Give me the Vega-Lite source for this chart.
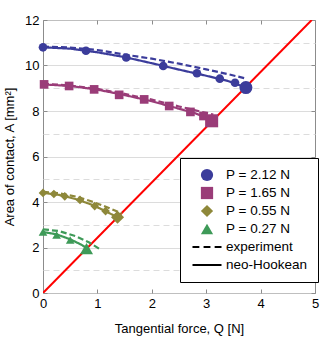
{
  "$schema": "https://vega.github.io/schema/vega-lite/v6.json",
  "width": 272,
  "height": 273,
  "autosize": "none",
  "padding": {"left": 43, "top": 20, "right": 5, "bottom": 46},
  "config": {
    "font": "Liberation Sans",
    "view": {"stroke": "#8c8c8c", "strokeWidth": 1},
    "axis": {
      "domain": false,
      "labelFontSize": 13,
      "titleFontSize": 13,
      "labelColor": "#000000",
      "titleColor": "#000000",
      "titleFontWeight": "normal",
      "tickColor": "#8c8c8c",
      "gridColor": "#d3d3d3",
      "gridWidth": 1,
      "labelFlush": false
    }
  },
  "datasets": {
    "curves": [
      {"series": "P = 2.12 N", "type": "experiment", "Q": 0, "A": 10.83},
      {"series": "P = 2.12 N", "type": "experiment", "Q": 0.5, "A": 10.79},
      {"series": "P = 2.12 N", "type": "experiment", "Q": 1, "A": 10.68},
      {"series": "P = 2.12 N", "type": "experiment", "Q": 1.5, "A": 10.48},
      {"series": "P = 2.12 N", "type": "experiment", "Q": 2, "A": 10.3},
      {"series": "P = 2.12 N", "type": "experiment", "Q": 2.5, "A": 10.08},
      {"series": "P = 2.12 N", "type": "experiment", "Q": 3, "A": 9.83},
      {"series": "P = 2.12 N", "type": "experiment", "Q": 3.4, "A": 9.62},
      {"series": "P = 2.12 N", "type": "experiment", "Q": 3.74, "A": 9.42},
      {"series": "P = 2.12 N", "type": "neo-Hookean", "Q": 0, "A": 10.8},
      {"series": "P = 2.12 N", "type": "neo-Hookean", "Q": 0.5, "A": 10.74},
      {"series": "P = 2.12 N", "type": "neo-Hookean", "Q": 1, "A": 10.58},
      {"series": "P = 2.12 N", "type": "neo-Hookean", "Q": 1.5, "A": 10.37},
      {"series": "P = 2.12 N", "type": "neo-Hookean", "Q": 2, "A": 10.1},
      {"series": "P = 2.12 N", "type": "neo-Hookean", "Q": 2.5, "A": 9.82},
      {"series": "P = 2.12 N", "type": "neo-Hookean", "Q": 3, "A": 9.55},
      {"series": "P = 2.12 N", "type": "neo-Hookean", "Q": 3.4, "A": 9.32},
      {"series": "P = 2.12 N", "type": "neo-Hookean", "Q": 3.73, "A": 9.03},
      {"series": "P = 1.65 N", "type": "experiment", "Q": 0, "A": 9.2},
      {"series": "P = 1.65 N", "type": "experiment", "Q": 0.5, "A": 9.12},
      {"series": "P = 1.65 N", "type": "experiment", "Q": 1, "A": 8.97},
      {"series": "P = 1.65 N", "type": "experiment", "Q": 1.5, "A": 8.75},
      {"series": "P = 1.65 N", "type": "experiment", "Q": 2, "A": 8.5},
      {"series": "P = 1.65 N", "type": "experiment", "Q": 2.5, "A": 8.2},
      {"series": "P = 1.65 N", "type": "experiment", "Q": 2.8, "A": 8.03},
      {"series": "P = 1.65 N", "type": "experiment", "Q": 3.13, "A": 7.84},
      {"series": "P = 1.65 N", "type": "neo-Hookean", "Q": 0, "A": 9.17},
      {"series": "P = 1.65 N", "type": "neo-Hookean", "Q": 0.5, "A": 9.1},
      {"series": "P = 1.65 N", "type": "neo-Hookean", "Q": 1, "A": 8.94},
      {"series": "P = 1.65 N", "type": "neo-Hookean", "Q": 1.5, "A": 8.7},
      {"series": "P = 1.65 N", "type": "neo-Hookean", "Q": 2, "A": 8.43},
      {"series": "P = 1.65 N", "type": "neo-Hookean", "Q": 2.5, "A": 8.1},
      {"series": "P = 1.65 N", "type": "neo-Hookean", "Q": 2.8, "A": 7.9},
      {"series": "P = 1.65 N", "type": "neo-Hookean", "Q": 3.1, "A": 7.6},
      {"series": "P = 0.55 N", "type": "experiment", "Q": 0, "A": 4.45},
      {"series": "P = 0.55 N", "type": "experiment", "Q": 0.3, "A": 4.38},
      {"series": "P = 0.55 N", "type": "experiment", "Q": 0.6, "A": 4.24},
      {"series": "P = 0.55 N", "type": "experiment", "Q": 0.9, "A": 4.02},
      {"series": "P = 0.55 N", "type": "experiment", "Q": 1.2, "A": 3.75},
      {"series": "P = 0.55 N", "type": "experiment", "Q": 1.45, "A": 3.5},
      {"series": "P = 0.55 N", "type": "neo-Hookean", "Q": 0, "A": 4.4},
      {"series": "P = 0.55 N", "type": "neo-Hookean", "Q": 0.3, "A": 4.31},
      {"series": "P = 0.55 N", "type": "neo-Hookean", "Q": 0.6, "A": 4.13},
      {"series": "P = 0.55 N", "type": "neo-Hookean", "Q": 0.9, "A": 3.88},
      {"series": "P = 0.55 N", "type": "neo-Hookean", "Q": 1.15, "A": 3.6},
      {"series": "P = 0.55 N", "type": "neo-Hookean", "Q": 1.37, "A": 3.32},
      {"series": "P = 0.27 N", "type": "experiment", "Q": 0, "A": 2.8},
      {"series": "P = 0.27 N", "type": "experiment", "Q": 0.3, "A": 2.72},
      {"series": "P = 0.27 N", "type": "experiment", "Q": 0.6, "A": 2.5},
      {"series": "P = 0.27 N", "type": "experiment", "Q": 0.85, "A": 2.22},
      {"series": "P = 0.27 N", "type": "experiment", "Q": 1.03, "A": 1.95},
      {"series": "P = 0.27 N", "type": "neo-Hookean", "Q": 0, "A": 2.68},
      {"series": "P = 0.27 N", "type": "neo-Hookean", "Q": 0.25, "A": 2.58},
      {"series": "P = 0.27 N", "type": "neo-Hookean", "Q": 0.5, "A": 2.36},
      {"series": "P = 0.27 N", "type": "neo-Hookean", "Q": 0.7, "A": 2.13},
      {"series": "P = 0.27 N", "type": "neo-Hookean", "Q": 0.82, "A": 1.95}
    ],
    "points": [
      {"series": "P = 2.12 N", "kind": "measured", "Q": 0, "A": 10.8},
      {"series": "P = 2.12 N", "kind": "measured", "Q": 0.79, "A": 10.65},
      {"series": "P = 2.12 N", "kind": "measured", "Q": 1.53, "A": 10.35},
      {"series": "P = 2.12 N", "kind": "measured", "Q": 2.21, "A": 9.98},
      {"series": "P = 2.12 N", "kind": "measured", "Q": 2.83, "A": 9.66},
      {"series": "P = 2.12 N", "kind": "measured", "Q": 3.25, "A": 9.42},
      {"series": "P = 2.12 N", "kind": "measured", "Q": 3.53, "A": 9.24},
      {"series": "P = 2.12 N", "kind": "critical", "Q": 3.73, "A": 9.03},
      {"series": "P = 1.65 N", "kind": "measured", "Q": 0.02, "A": 9.17},
      {"series": "P = 1.65 N", "kind": "measured", "Q": 0.48, "A": 9.1},
      {"series": "P = 1.65 N", "kind": "measured", "Q": 0.94, "A": 8.95},
      {"series": "P = 1.65 N", "kind": "measured", "Q": 1.4, "A": 8.71},
      {"series": "P = 1.65 N", "kind": "measured", "Q": 1.86, "A": 8.51},
      {"series": "P = 1.65 N", "kind": "measured", "Q": 2.32, "A": 8.22},
      {"series": "P = 1.65 N", "kind": "measured", "Q": 2.71, "A": 7.96},
      {"series": "P = 1.65 N", "kind": "measured", "Q": 2.95, "A": 7.78},
      {"series": "P = 1.65 N", "kind": "critical", "Q": 3.1, "A": 7.57},
      {"series": "P = 0.55 N", "kind": "measured", "Q": 0, "A": 4.4},
      {"series": "P = 0.55 N", "kind": "measured", "Q": 0.2, "A": 4.35},
      {"series": "P = 0.55 N", "kind": "measured", "Q": 0.4, "A": 4.25},
      {"series": "P = 0.55 N", "kind": "measured", "Q": 0.68, "A": 4.09},
      {"series": "P = 0.55 N", "kind": "measured", "Q": 0.95, "A": 3.82},
      {"series": "P = 0.55 N", "kind": "measured", "Q": 1.15, "A": 3.6},
      {"series": "P = 0.55 N", "kind": "critical", "Q": 1.37, "A": 3.33},
      {"series": "P = 0.27 N", "kind": "measured", "Q": 0, "A": 2.68},
      {"series": "P = 0.27 N", "kind": "measured", "Q": 0.25, "A": 2.55},
      {"series": "P = 0.27 N", "kind": "measured", "Q": 0.5, "A": 2.33},
      {"series": "P = 0.27 N", "kind": "critical", "Q": 0.8, "A": 1.95}
    ],
    "limit": [
      {"Q": 0, "A": 0},
      {"Q": 4.94, "A": 12}
    ]
  },
  "layer": [
    {
      "data": {"name": "limit"},
      "mark": {"type": "line", "color": "#ff0000", "strokeWidth": 2, "clip": true},
      "encoding": {
        "x": {"field": "Q", "type": "quantitative", "scale": {"domain": [0, 5], "nice": false},
          "axis": {"orient": "bottom", "values": [0, 1, 2, 3, 4, 5], "format": "d", "tickSize": -4, "labelPadding": 8, "grid": false, "title": "Tangential force, Q [N]", "titlePadding": 12}},
        "y": {"field": "A", "type": "quantitative", "scale": {"domain": [0, 12], "nice": false},
          "axis": {"orient": "left", "values": [0, 1, 2, 3, 4, 5, 6, 7, 8, 9, 10, 11, 12], "format": "d",
            "labelExpr": "datum.value % 2 ? '' : datum.label",
            "tickSize": -4, "labelPadding": 8,
            "tickOpacity": {"condition": {"test": "datum.value % 2 === 1", "value": 0}, "value": 1},
            "grid": true,
            "gridDash": {"condition": {"test": "datum.value % 2 === 1", "value": [6, 4]}, "value": [1, 0]},
            "gridColor": {"condition": {"test": "datum.value % 2 === 1", "value": "#dcdcdc"}, "value": "#d0d0d0"},
            "title": "Area of contact, A [mm²]", "titlePadding": 8}}
      }
    },
    {
      "data": {"name": "curves"},
      "mark": {"type": "line", "strokeWidth": 2.2},
      "encoding": {
        "x": {"field": "Q", "type": "quantitative", "axis": null},
        "y": {"field": "A", "type": "quantitative", "axis": null},
        "stroke": {"field": "series", "type": "nominal", "legend": null,
          "scale": {"domain": ["P = 2.12 N", "P = 1.65 N", "P = 0.55 N", "P = 0.27 N"], "range": ["#3b3c9b", "#9a3c78", "#8e883a", "#3e9a58"]}},
        "strokeDash": {"field": "type", "type": "nominal", "legend": null,
          "scale": {"domain": ["experiment", "neo-Hookean"], "range": [[6, 3], [1, 0]]}},
        "detail": {"field": "type", "type": "nominal"}
      }
    },
    {
      "data": {"name": "points"},
      "mark": {"type": "point", "filled": true, "opacity": 1},
      "encoding": {
        "x": {"field": "Q", "type": "quantitative",
          "axis": {"orient": "top", "values": [0, 1, 2, 3, 4, 5], "labels": false, "tickSize": -4, "grid": false, "title": null}},
        "y": {"field": "A", "type": "quantitative",
          "axis": {"orient": "right", "values": [0, 2, 4, 6, 8, 10, 12], "labels": false, "tickSize": -4, "grid": false, "title": null}},
        "size": {"field": "kind", "type": "ordinal", "legend": null,
          "scale": {"domain": ["measured", "critical"], "range": [75, 170]}},
        "color": {"field": "series", "type": "nominal",
          "scale": {"domain": ["P = 2.12 N", "P = 1.65 N", "P = 0.55 N", "P = 0.27 N", "experiment", "neo-Hookean"],
            "range": ["#3b3c9b", "#9a3c78", "#8e883a", "#3e9a58", "#000000", "#000000"]},
          "legend": {
            "title": null,
            "orient": "none",
            "legendX": 137,
            "legendY": 138,
            "padding": 10,
            "strokeColor": "#000000",
            "fillColor": "#ffffff",
            "labelFontSize": 13.5,
            "labelColor": "#000000",
            "symbolSize": 150,
            "symbolOffset": 10,
            "labelOffset": 12,
            "rowPadding": 4
          }},
        "shape": {"field": "series", "type": "nominal",
          "scale": {"domain": ["P = 2.12 N", "P = 1.65 N", "P = 0.55 N", "P = 0.27 N", "experiment", "neo-Hookean"],
            "range": ["circle", "square", "diamond", "triangle-up",
              "M-2.37,-0.16H-1.25V0.16H-2.37ZM-0.56,-0.16H0.56V0.16H-0.56ZM1.25,-0.16H2.37V0.16H1.25Z",
              "M-2.37,-0.16H2.37V0.16H-2.37Z"]}}
      }
    }
  ],
  "resolve": {"axis": {"x": "independent", "y": "independent"}}
}
